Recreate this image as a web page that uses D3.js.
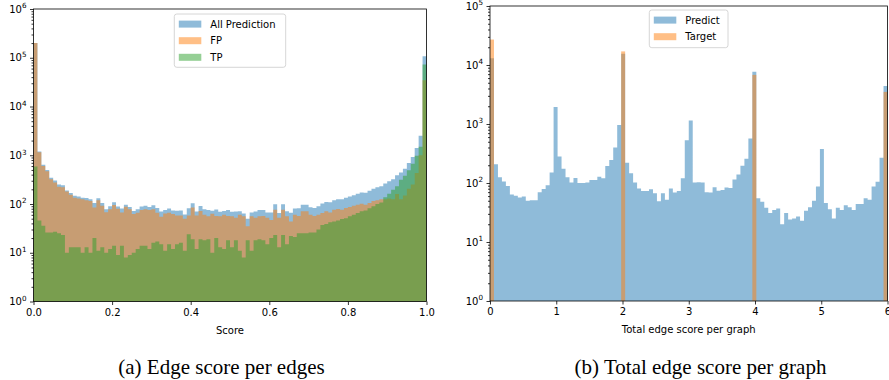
<!DOCTYPE html>
<html>
<head>
<meta charset="utf-8">
<script src="https://cdn.jsdelivr.net/npm/d3@7"></script>
<style>
  body { margin: 0; background: #fff; }
  svg { display: block; font-family: "DejaVu Sans", sans-serif; }
</style>
</head>
<body>
<svg id="fig" width="889" height="380"></svg>
<script>
// (a) edge score per edge: 100 bins on [0, 1]
const scoreRange = [0, 1];
const allPrediction = [200600, 1200, 640, 496, 346, 302, 250, 243, 190, 168,
  148, 143, 135, 133, 125, 105, 131, 105, 78, 90,
  109, 89, 81, 96, 87, 72, 78, 89, 92, 87,
  94, 83, 70, 75, 81, 74, 73, 74, 61, 82,
  104, 70, 91, 78, 75, 73, 77, 69, 72, 75,
  69, 70, 71, 64, 50, 67, 70, 75, 75, 67,
  67, 99, 65, 99, 71, 66, 81, 82, 96, 96,
  86, 83, 90, 102, 110, 109, 120, 125, 125, 134,
  143, 152, 162, 172, 171, 187, 205, 220, 232, 263,
  293, 320, 390, 441, 530, 695, 920, 1410, 2500, 107200];
const fpCounts = [200000, 1150, 600, 470, 320, 275, 225, 220, 180, 155,
  135, 130, 125, 120, 115, 85, 120, 92, 68, 78,
  95, 80, 67, 88, 78, 62, 66, 75, 78, 75,
  78, 66, 55, 64, 66, 62, 58, 58, 50, 58,
  85, 58, 72, 60, 56, 63, 57, 56, 60, 57,
  56, 52, 60, 56, 35, 56, 52, 56, 57, 52,
  47, 76, 52, 76, 56, 44, 60, 57, 71, 71,
  60, 57, 60, 65, 71, 67, 76, 79, 76, 83,
  87, 92, 97, 101, 97, 105, 115, 120, 125, 125,
  130, 125, 160, 125, 150, 205, 250, 430, 1000, 34500];
const tpCounts = [590, 46, 36, 26, 26, 27, 25, 23, 10, 13,
  13, 13, 10, 13, 10, 20, 11, 13, 10, 12,
  14, 9, 14, 8, 9, 10, 12, 14, 14, 12,
  16, 17, 15, 11, 15, 12, 15, 16, 11, 24,
  19, 12, 19, 18, 19, 10, 20, 13, 12, 18,
  13, 18, 11, 8, 18, 11, 18, 19, 18, 15,
  20, 23, 13, 23, 15, 22, 21, 25, 25, 25,
  26, 26, 30, 37, 39, 42, 44, 46, 49, 51,
  56, 60, 65, 71, 74, 82, 90, 100, 107, 138,
  163, 195, 230, 316, 380, 490, 670, 980, 1500, 72700];
const scoreTicks = [0, 0.2, 0.4, 0.6, 0.8, 1.0];

// (b) total edge score per graph: 100 bins on [0, 6]
const graphRange = [0, 6];
const predictCounts = [13000, 208, 125, 106, 89, 64, 61, 57, 59, 50,
  51, 51, 70, 79, 92, 150, 1950, 280, 175, 125,
  102, 121, 100, 100, 102, 112, 112, 128, 120, 195,
  245, 400, 960, 15500, 220, 146, 102, 81, 73, 73,
  78, 67, 49, 67, 52, 81, 69, 73, 120, 530,
  1150, 102, 103, 102, 70, 69, 85, 74, 76, 84,
  82, 115, 140, 196, 258, 570, 7700, 55, 48, 38,
  31, 35, 37, 20, 31, 24, 25, 27, 23, 34,
  39, 50, 87, 377, 46, 36, 25, 38, 35, 42,
  39, 35, 44, 44, 55, 52, 87, 105, 268, 4400];
const targetScores = [0, 2, 4, 6];
const targetCounts = [27000, 17000, 6800, 3500];
const graphTicks = [0, 1, 2, 3, 4, 5, 6];

const svg = d3.select('#fig');
const C = { blue: '#1f77b4', orange: '#ff7f0e', green: '#2ca02c' };

function drawPanel(p) {
  const g = svg.append('g');
  const x = d3.scaleLinear().domain(p.xDomain).range([p.left, p.right]);
  const y = d3.scaleLog().domain([1, p.yMax]).range([p.bottom, p.top]);
  const nb = p.bins;
  const step = (p.xDomain[1] - p.xDomain[0]) / nb;

  // histogram series as step areas
  const area = d3.area()
    .curve(d3.curveStepAfter)
    .x(d => x(d[0]))
    .y0(y(1))
    .y1(d => y(Math.max(1, d[1])));

  p.series.forEach(s => {
    const pts = s.counts.map((v, i) => [p.xDomain[0] + i * step, v]);
    pts.push([p.xDomain[1], s.counts[nb - 1]]);
    g.append('path')
      .attr('d', area(pts))
      .attr('fill', s.color)
      .attr('fill-opacity', 0.5);
  });

  // sparse series (values binned into the same bins)
  (p.sparse || []).forEach(s => {
    s.values.forEach((v, j) => {
      const i = Math.min(nb - 1, Math.floor((v - p.xDomain[0]) / step + 1e-9));
      const x0 = p.xDomain[0] + i * step;
      g.append('rect')
        .attr('x', x(x0))
        .attr('width', x(x0 + step) - x(x0))
        .attr('y', y(s.counts[j]))
        .attr('height', y(1) - y(s.counts[j]))
        .attr('fill', s.color)
        .attr('fill-opacity', 0.5);
    });
  });

  // axes
  g.append('g')
    .attr('transform', 'translate(0,' + p.bottom + ')')
    .call(d3.axisBottom(x).tickValues(p.xTicks).tickFormat(p.xFormat).tickSize(3.5).tickPadding(3.5));
  const decades = d3.range(0, Math.round(Math.log10(p.yMax)) + 1).map(e => Math.pow(10, e));
  const minor = [];
  decades.slice(0, -1).forEach(d => { for (let k = 2; k < 10; k++) minor.push(d * k); });
  g.append('g')
    .attr('transform', 'translate(' + p.left + ',0)')
    .call(d3.axisLeft(y).tickValues(minor).tickFormat('').tickSize(2));
  const ya = g.append('g')
    .attr('transform', 'translate(' + p.left + ',0)')
    .call(d3.axisLeft(y).tickValues(decades).tickSize(3.5).tickPadding(3.5));
  ya.selectAll('.tick text').each(function (d) {
    const t = d3.select(this).text('10');
    t.append('tspan')
      .attr('dy', '-0.62em')
      .attr('font-size', '7.2px')
      .text(Math.round(Math.log10(d)));
  });
  g.selectAll('.domain').remove();
  g.selectAll('.tick line').attr('stroke', '#000').attr('stroke-width', 0.8);
  g.selectAll('.tick text').attr('font-size', '10px').attr('fill', '#000')
    .attr('font-family', '"DejaVu Sans", sans-serif');

  g.append('rect')
    .attr('x', p.left).attr('y', p.top)
    .attr('width', p.right - p.left).attr('height', p.bottom - p.top)
    .attr('fill', 'none').attr('stroke', '#000').attr('stroke-width', 0.8);

  g.append('text')
    .attr('x', (p.left + p.right) / 2).attr('y', p.bottom + 32)
    .attr('text-anchor', 'middle').attr('font-size', '10px')
    .text(p.xLabel);

  // legend
  const L = p.legend;
  const lg = g.append('g');
  lg.append('rect')
    .attr('x', L.x).attr('y', L.y).attr('width', L.w).attr('height', L.h)
    .attr('rx', 2.5)
    .attr('fill', '#fff').attr('fill-opacity', 0.8)
    .attr('stroke', '#cccccc').attr('stroke-width', 0.8);
  L.items.forEach((it, i) => {
    const cy = L.y + 10 + i * 16.6;
    lg.append('rect')
      .attr('x', L.x + 4.5).attr('y', cy - 3.4).attr('width', 22.5).attr('height', 7)
      .attr('fill', it.color).attr('fill-opacity', 0.5);
    lg.append('text')
      .attr('x', L.x + 36).attr('y', cy + 3.8)
      .attr('font-size', '10px')
      .text(it.label);
  });

  svg.append('text')
    .attr('x', p.captionX).attr('y', 374)
    .attr('text-anchor', 'middle')
    .attr('font-family', '"Liberation Serif", "Times New Roman", serif')
    .attr('font-size', '21px')
    .text(p.caption);
}

drawPanel({
  left: 33.5, right: 426.5, top: 9, bottom: 301.5,
  xDomain: scoreRange, yMax: 1e6, bins: allPrediction.length,
  xTicks: scoreTicks, xFormat: d3.format('.1f'), xLabel: 'Score',
  series: [
    { counts: allPrediction, color: C.blue },
    { counts: fpCounts, color: C.orange },
    { counts: tpCounts, color: C.green }
  ],
  legend: {
    x: 174.3, y: 14, w: 111.4, h: 53.3,
    items: [
      { label: 'All Prediction', color: C.blue },
      { label: 'FP', color: C.orange },
      { label: 'TP', color: C.green }
    ]
  },
  caption: '(a) Edge score per edges', captionX: 221.5
});

drawPanel({
  left: 490, right: 887.5, top: 6, bottom: 301,
  xDomain: graphRange, yMax: 1e5, bins: predictCounts.length,
  xTicks: graphTicks, xFormat: d3.format('d'), xLabel: 'Total edge score per graph',
  series: [ { counts: predictCounts, color: C.blue } ],
  sparse: [ { values: targetScores, counts: targetCounts, color: C.orange } ],
  legend: {
    x: 649.3, y: 10, w: 78.7, h: 37.7,
    items: [
      { label: 'Predict', color: C.blue },
      { label: 'Target', color: C.orange }
    ]
  },
  caption: '(b) Total edge score per graph', captionX: 700.5
});
</script>
</body>
</html>
